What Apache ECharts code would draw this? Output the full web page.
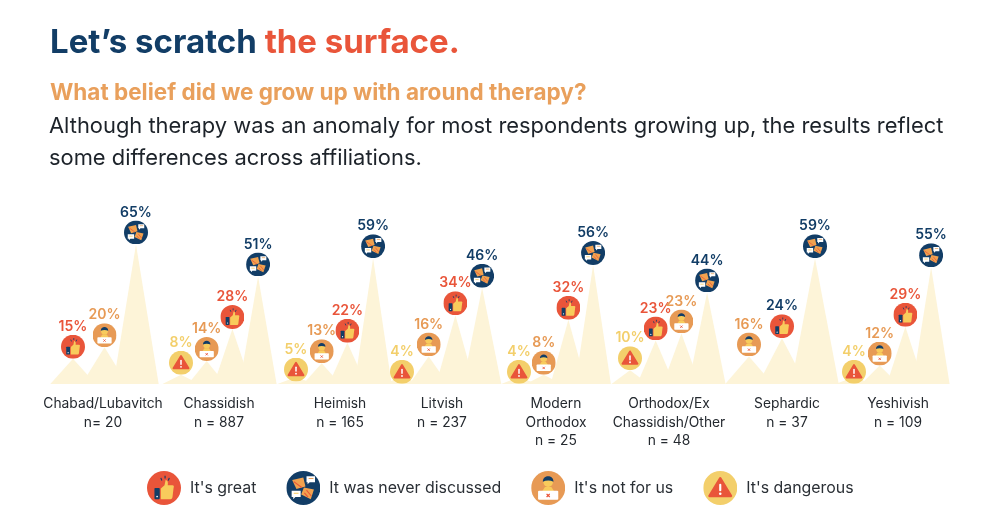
<!DOCTYPE html>
<html>
<head>
<meta charset="utf-8">
<style>html,body{margin:0;padding:0;background:#fff}#c{width:1000px;height:524px}</style>
<script src="https://cdn.jsdelivr.net/npm/echarts@6/dist/echarts.min.js"></script>
</head>
<body>
<div id="c"></div>
<script>
// ---------- data ----------
const categories = ['Chabad/Lubavitch','Chassidish','Heimish','Litvish','Modern\nOrthodox','Orthodox/Ex\nChassidish/Other','Sephardic','Yeshivish'];
const sampleSizes = ['n= 20','n = 887','n = 165','n = 237','n = 25','n = 48','n = 37','n = 109'];
const itsGreat = [15,28,22,34,32,23,24,29];
const neverDiscussed = [65,51,59,46,56,44,59,55];
const notForUs = [20,14,13,16,8,23,16,12];
const dangerous = [null,8,5,4,4,10,null,4];

// ---------- layout (axis units equal pixels on the x axis) ----------
const groupFirstPeak = [73,181,296,402,519,630,749,854];
const groupPeakStep = [31.5,25.7,25.7,26.7,24.7,25.7,33,25.7];
const groupLabelCenter = [103,219,340,442,556,669,787,898];
const ORTHODOX = 5, SEPHARDIC = 6, TIE_LIFT = 7; // the tied 23% orange marker sits a little higher so its label stays clear
const NAVY='#123D66', RED='#E9553A', ORANGE='#E79A55', YELLOW='#F3CF6B', CREAM='#FDF4D8';

// ---------- icons ----------
const svg = b => 'image://data:image/svg+xml;charset=utf-8,' + encodeURIComponent(
 '<svg xmlns="http://www.w3.org/2000/svg" width="96" height="96" viewBox="0 0 64 64">'+b+'</svg>');
const iconGreat = svg('<circle cx="32" cy="32" r="32" fill="'+RED+'"/>'+
 '<rect x="14" y="32" width="10" height="21" rx="1.5" fill="'+NAVY+'"/><circle cx="19" cy="48" r="1.6" fill="#fff"/>'+
 '<path d="M26 33l7-6 2-10c4 0 5 4 4 10h9c3 0 3 3 2 5l-2 17c-.5 3-2 4-4 4H26z" fill="#F8CB5C"/>'+
 '<path d="M26 13l2 5M34 9v5M42 13l-2 5" stroke="#143E67" stroke-width="2.2"/>');
const iconNever = svg('<circle cx="32" cy="32" r="32" fill="'+NAVY+'"/>'+
 '<path d="M11 17l21-5 4 17-17 5z" fill="#F1A24F"/><path d="M33 31l19 4-6 18-18-9z" fill="#F1A24F"/>'+
 '<path d="M14 20l15 11M38 36l9 11M34 41l7 8" stroke="#E9553A" stroke-width="2"/>'+
 '<path d="M38 10h16v11H44l-4 4v-4h-2z" fill="#fff"/><path d="M42 14h9" stroke="#E9A15A" stroke-width="2"/>'+
 '<path d="M10 37h17v12H17l-4 4v-4h-3z" fill="#fff"/><path d="M14 42h9" stroke="#F8CB5C" stroke-width="2"/>');
const iconNot = svg('<circle cx="32" cy="32" r="32" fill="'+ORANGE+'"/>'+
 '<path d="M22 36l4-6h12l4 6v5H22z" fill="#F8CB5C"/><circle cx="32" cy="21" r="9" fill="#F8CB5C"/>'+
 '<path d="M22 20c0-7 5-10 10-10s10 3 10 10c-6-3-14-3-20 0z" fill="'+NAVY+'"/>'+
 '<rect x="13" y="37" width="38" height="17" rx="2" fill="#fff"/>'+
 '<path d="M29 43l6 6M35 43l-6 6" stroke="'+RED+'" stroke-width="2.4"/>');
const iconDanger = svg('<circle cx="32" cy="32" r="32" fill="'+YELLOW+'"/>'+
 '<path d="M32 14L52 47H12z" fill="'+RED+'" stroke="'+RED+'" stroke-width="5" stroke-linejoin="round"/>'+
 '<rect x="30" y="24" width="4" height="14" rx="2" fill="#fff"/><circle cx="32" cy="43" r="2.4" fill="#fff"/>');

// ---------- peak placement: within a group, peaks rise left to right ----------
const kinds = [dangerous, itsGreat, notForUs, neverDiscussed];
const peakX = kinds.map(() => []);
categories.forEach((_, g) => {
  const present = kinds.map((arr, k) => ({k, v: arr[g]})).filter(d => d.v != null);
  present.sort((a, b) => a.v - b.v || a.k - b.k);
  present.forEach((d, rank) => { peakX[d.k][g] = groupFirstPeak[g] + rank * groupPeakStep[g]; });
});
const points = k => kinds[k].map((v, g) => v == null ? null :
  [peakX[k][g], v, g, (k === 2 && g === ORTHODOX) ? TIE_LIFT : 0]).filter(Boolean);
const allPeaks = [].concat(points(0), points(1), points(2), points(3));

const markerSeries = (name, k, icon, color) => ({
  name, type: 'scatter', data: points(k), symbol: icon, symbolSize: 24, z: 5,
  itemStyle: { opacity: 1 },
  label: { show: true, position: 'top', distance: 1,
    formatter: p => p.value[1] + '%',
    fontFamily: 'Inter', fontSize: 14, fontWeight: 600, color }
});
const great = markerSeries("It's great", 1, iconGreat, RED);
great.data = great.data.map(d => d[2] === SEPHARDIC ? { value: d, label: { color: NAVY } } : d);
const notFor = markerSeries("It's not for us", 2, iconNot, ORANGE);
notFor.data = notFor.data.map(d => d[3] ? { value: d, symbolOffset: [0, -d[3]] } : d);

const legendIcons = [iconGreat, iconNever, iconNot, iconDanger];
const legendNames = ["It's great", 'It was never discussed', "It's not for us", "It's dangerous"];

const chart = echarts.init(document.getElementById('c'), null, { renderer: 'canvas' });
chart.setOption({
  animation: false,
  backgroundColor: '#fff',
  title: [
    { text: '{a|Let’s scratch }{b|the surface.}', left: 50, top: 27, padding: 0,
      textStyle: { rich: {
        a: { fontFamily:'Inter', fontSize:33, fontWeight:700, color:NAVY },
        b: { fontFamily:'Inter', fontSize:33, fontWeight:700, color:RED } } } },
    { text: 'What belief did we grow up with around therapy?', left: 50, top: 82, padding: 0,
      textStyle: { fontFamily:'Inter', fontSize:22.5, fontWeight:700, color:'#E9A05C' } },
    { text: 'Although therapy was an anomaly for most respondents growing up, the results reflect\nsome differences across affiliations.',
      left: 49, top: 110, padding: 0,
      textStyle: { fontFamily:'Inter', fontSize:21.9, fontWeight:400, color:'#1d232a', lineHeight:32 } }
  ],
  grid: { left: 0, right: 0, top: 221, bottom: 143 },
  xAxis: { type: 'value', min: 0, max: 1000, splitLine: { show: false }, axisLine: { show: false }, axisTick: { show: false },
    axisLabel: { show: true, customValues: groupLabelCenter, margin: 14, fontFamily: 'Inter', fontSize: 13.8, lineHeight: 18.5,
      color: '#24292f', verticalAlign: 'top', hideOverlap: false,
      formatter: v => { const g = groupLabelCenter.indexOf(v); return categories[g] + '\n' + sampleSizes[g]; } } },
  yAxis: { type: 'value', min: 0, max: 70, show: false },
  legend: {
    data: legendNames.map((name, i) => ({ name, icon: legendIcons[i] })),
    left: 147, top: 471, padding: 0, itemWidth: 34, itemHeight: 34, itemGap: 30, selectedMode: false,
    textStyle: { fontFamily: 'Inter', fontSize: 15.9, color: '#2b3036', padding: [0, 0, 0, 4] }
  },
  series: [
    { type: 'custom', name: 'peaks', silent: true, z: 1, clip: false,
      encode: { x: 0, y: 1 }, data: allPeaks,
      renderItem: (params, api) => {
        const top = api.coord([api.value(0), api.value(1)]);
        const baseY = api.coord([api.value(0), 0])[1] + 3;
        const halfWidth = groupPeakStep[api.value(2)] * 0.72;
        const apexY = Math.min(top[1] + 12 - api.value(3), baseY - 7);
        return { type: 'polygon', shape: { points: [[top[0] - halfWidth, baseY], [top[0], apexY], [top[0] + halfWidth, baseY]] },
          style: { fill: CREAM } };
      } },
    great,
    markerSeries('It was never discussed', 3, iconNever, NAVY),
    notFor,
    markerSeries("It's dangerous", 0, iconDanger, YELLOW)
  ]
});
</script>
</body>
</html>
